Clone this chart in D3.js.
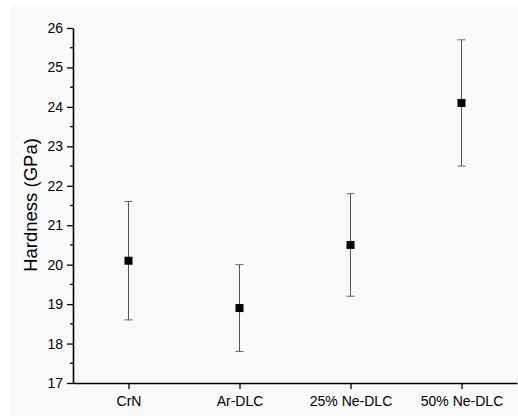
<!DOCTYPE html>
<html>
<head>
<meta charset="utf-8">
<script src="https://cdn.jsdelivr.net/npm/d3@7"></script>
<style>
  body { margin: 0; background: #fff; }
  text { font-family: "Liberation Sans", Arial, sans-serif; fill: #000; }
</style>
</head>
<body>
<svg id="chart" width="518" height="416"></svg>
<script>
const categories = ["CrN", "Ar-DLC", "25% Ne-DLC", "50% Ne-DLC"];
const hardness = [20.1, 18.9, 20.5, 24.1];
const errors = [1.5, 1.1, 1.3, 1.6];
const yTicks = [17, 18, 19, 20, 21, 22, 23, 24, 25, 26];

const svg = d3.select("#chart");

// plot background
svg.append("rect")
  .attr("x", 11).attr("y", 5)
  .attr("width", 507).attr("height", 411)
  .attr("fill", "#f9f9f9");

const xScale = d3.scaleLinear().domain([-0.5, 3.5]).range([73, 517]);
const yScale = d3.scaleLinear().domain([17, 26]).range([383, 28]);

const data = categories.map((c, i) => ({ cat: c, i: i, v: hardness[i], e: errors[i] }));

// minor y ticks
const minor = d3.range(17.5, 26, 1);
svg.selectAll(".minor")
  .data(minor)
  .enter().append("line")
  .attr("x1", 73).attr("x2", 70)
  .attr("y1", d => yScale(d)).attr("y2", d => yScale(d))
  .attr("stroke", "#000").attr("stroke-width", 1.3);

const yAxis = svg.append("g")
  .attr("transform", "translate(73,0)")
  .call(d3.axisLeft(yScale).tickValues(yTicks).tickSize(6).tickPadding(4).tickSizeOuter(0));
yAxis.select(".domain").attr("stroke-width", 1.6);
yAxis.selectAll(".tick line").attr("stroke-width", 1.3);
yAxis.selectAll("text").style("font-size", "14px");

const xAxis = svg.append("g")
  .attr("transform", "translate(0,383)")
  .call(d3.axisBottom(xScale).tickValues([0, 1, 2, 3]).tickFormat(i => categories[i])
    .tickSize(6).tickPadding(7).tickSizeOuter(0));
xAxis.select(".domain").attr("stroke-width", 1.6);
xAxis.selectAll(".tick line").attr("stroke-width", 1.3);
xAxis.selectAll("text").style("font-size", "14px");

svg.append("text")
  .attr("transform", "translate(37,205) rotate(-90)")
  .attr("text-anchor", "middle")
  .style("font-size", "18.5px")
  .text("Hardness (GPa)");

// error bars
const bars = svg.append("g");
bars.selectAll(".err")
  .data(data)
  .enter().append("line")
  .attr("x1", d => xScale(d.i)).attr("x2", d => xScale(d.i))
  .attr("y1", d => yScale(d.v - d.e)).attr("y2", d => yScale(d.v + d.e))
  .attr("stroke", "#555").attr("stroke-width", 1);
["top", "bot"].forEach(k => {
  bars.selectAll(".cap-" + k)
    .data(data)
    .enter().append("line")
    .attr("x1", d => xScale(d.i) - 4).attr("x2", d => xScale(d.i) + 4)
    .attr("y1", d => yScale(k === "top" ? d.v + d.e : d.v - d.e))
    .attr("y2", d => yScale(k === "top" ? d.v + d.e : d.v - d.e))
    .attr("stroke", "#666").attr("stroke-width", 1);
});

svg.selectAll(".pt")
  .data(data)
  .enter().append("rect")
  .attr("x", d => xScale(d.i) - 4)
  .attr("y", d => yScale(d.v) - 4)
  .attr("width", 8).attr("height", 8)
  .attr("fill", "#000");
</script>
</body>
</html>
